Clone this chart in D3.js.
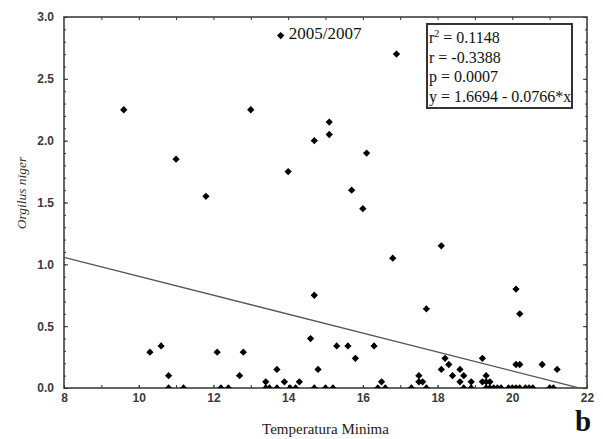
<!DOCTYPE html>
<html>
<head>
<meta charset="utf-8">
<script src="https://cdn.jsdelivr.net/npm/d3@7"></script>
<style>
  html, body { margin: 0; padding: 0; background: #fff; }
  svg { display: block; }
</style>
</head>
<body>
<div id="chart"></div>
<script>
// values (Temperatura Minima vs Orgilus niger)
var tempMinima = [
  9.6, 13.0, 13.8, 15.1, 15.1, 14.7, 16.9, 16.1, 11.0, 14.0, 15.7, 11.8, 16.0, 16.8, 18.1,
  20.1, 20.2, 17.7, 14.7,
  10.3, 10.6, 10.8, 12.1, 12.8, 12.7, 13.7, 13.4, 13.9, 14.3, 14.6, 14.8, 15.3, 15.6, 15.8,
  16.3, 16.5, 17.5, 17.5, 17.6, 18.2, 18.3, 18.1, 18.4, 18.6, 18.7, 18.6, 18.9, 19.2, 19.3,
  19.2, 19.3, 19.4, 20.1, 20.2, 20.8, 21.2,
  10.8, 11.2, 12.2, 12.4, 13.4, 13.5, 13.7, 14.05, 14.2, 14.7, 15.0, 15.2, 16.4, 16.6, 17.3,
  17.7, 18.7, 18.9, 19.3, 19.4, 19.5, 19.6, 19.7, 19.9, 20.0, 20.1, 20.2, 20.35, 20.45, 20.55,
  21.0, 21.1
];
var orgilusNiger = [
  2.25, 2.25, 2.85, 2.15, 2.05, 2.0, 2.7, 1.9, 1.85, 1.75, 1.6, 1.55, 1.45, 1.05, 1.15,
  0.8, 0.6, 0.64, 0.75,
  0.29, 0.34, 0.1, 0.29, 0.29, 0.1, 0.15, 0.05, 0.05, 0.05, 0.4, 0.15, 0.34, 0.34, 0.24,
  0.34, 0.05, 0.1, 0.05, 0.05, 0.24, 0.19, 0.15, 0.1, 0.15, 0.1, 0.05, 0.05, 0.24, 0.1,
  0.05, 0.05, 0.05, 0.19, 0.19, 0.19, 0.15,
  0, 0, 0, 0, 0, 0, 0, 0, 0, 0, 0, 0, 0, 0, 0,
  0, 0, 0, 0, 0, 0, 0, 0, 0, 0, 0, 0, 0, 0, 0,
  0, 0
];

var xTickLabels = [8, 10, 12, 14, 16, 18, 20, 22];
var yTickLabels = [0, 0.5, 1.0, 1.5, 2.0, 2.5, 3.0];

var intercept = 1.6694;
var slope = -0.0766;
var statsLines = ['r', 'r = -0.3388', 'p = 0.0007', 'y = 1.6694 - 0.0766*x'];
var outlierIndex = 2;
var outlierLabel = '2005/2007';

var width = 603, height = 439;
var margin = { top: 17, right: 16, bottom: 51, left: 64 };

var svg = d3.select('#chart')
  .append('svg')
  .attr('width', width)
  .attr('height', height);

var x = d3.scaleLinear().domain([8, 22]).range([margin.left, width - margin.right]);
var y = d3.scaleLinear().domain([0, 3]).range([height - margin.bottom, margin.top]);

svg.append('clipPath')
  .attr('id', 'plot-clip')
  .append('rect')
  .attr('x', x(8))
  .attr('y', y(3))
  .attr('width', x(22) - x(8))
  .attr('height', y(0) - y(3));

var axisColor = '#333';

// minor ticks
svg.append('g')
  .attr('transform', 'translate(0,' + y(0) + ')')
  .call(d3.axisBottom(x).tickValues(d3.range(9, 22, 1)).tickSizeInner(-3).tickSizeOuter(0).tickFormat(''));
svg.append('g')
  .attr('transform', 'translate(0,' + y(3) + ')')
  .call(d3.axisTop(x).tickValues(d3.range(9, 22, 1)).tickSizeInner(-3).tickSizeOuter(0).tickFormat(''));
svg.append('g')
  .attr('transform', 'translate(' + x(8) + ',0)')
  .call(d3.axisLeft(y).tickValues(d3.range(0.1, 3, 0.1)).tickSizeInner(-2).tickSizeOuter(0).tickFormat(''));
svg.append('g')
  .attr('transform', 'translate(' + x(22) + ',0)')
  .call(d3.axisRight(y).tickValues(d3.range(0.1, 3, 0.1)).tickSizeInner(-2).tickSizeOuter(0).tickFormat(''));

// major ticks with labels
svg.append('g')
  .attr('class', 'x-axis')
  .attr('transform', 'translate(0,' + y(0) + ')')
  .call(d3.axisBottom(x).tickValues(xTickLabels).tickSizeInner(-3).tickSizeOuter(0).tickPadding(5.5).tickFormat(d3.format('d')));
svg.append('g')
  .attr('class', 'y-axis')
  .attr('transform', 'translate(' + x(8) + ',0)')
  .call(d3.axisLeft(y).tickValues(yTickLabels).tickSizeInner(-4).tickSizeOuter(0).tickPadding(10).tickFormat(d3.format('.1f')));
svg.append('g')
  .attr('transform', 'translate(' + x(22) + ',0)')
  .call(d3.axisRight(y).tickValues(yTickLabels).tickSizeInner(-4).tickSizeOuter(0).tickFormat(''));

svg.selectAll('.domain').remove();
svg.selectAll('.tick line').attr('stroke', axisColor).attr('stroke-width', 1);
svg.selectAll('.x-axis text, .y-axis text')
  .attr('font-family', 'Liberation Sans, Arial, sans-serif')
  .attr('font-size', 12)
  .attr('font-weight', 'bold')
  .attr('fill', '#3a3a3a');

// frame
svg.append('rect')
  .attr('x', x(8))
  .attr('y', y(3))
  .attr('width', x(22) - x(8))
  .attr('height', y(0) - y(3))
  .attr('fill', 'none')
  .attr('stroke', axisColor)
  .attr('stroke-width', 1.5);

var plot = svg.append('g').attr('clip-path', 'url(#plot-clip)');

// regression line
plot.append('line')
  .attr('x1', x(8))
  .attr('y1', y(intercept + slope * 8))
  .attr('x2', x(22))
  .attr('y2', y(intercept + slope * 22))
  .attr('stroke', '#555')
  .attr('stroke-width', 1.3);

// markers
var markerPath = d3.symbol().type(d3.symbolDiamond2).size(34)() + d3.symbol().type(d3.symbolCircle).size(19)();

plot.selectAll('path.pt')
  .data(tempMinima)
  .enter()
  .append('path')
  .attr('class', 'pt')
  .attr('d', markerPath)
  .attr('transform', function (d, i) {
    return 'translate(' + x(d) + ',' + y(orgilusNiger[i]) + ')';
  })
  .attr('fill', '#000');

// outlier label
svg.append('text')
  .attr('x', x(tempMinima[outlierIndex]) + 8)
  .attr('y', y(orgilusNiger[outlierIndex]) + 3)
  .attr('font-family', 'Liberation Serif, Times New Roman, serif')
  .attr('font-size', 17)
  .attr('fill', '#111')
  .text(outlierLabel);

// stats box
svg.append('rect')
  .attr('x', 427)
  .attr('y', 24)
  .attr('width', 145)
  .attr('height', 84)
  .attr('fill', '#fff')
  .attr('stroke', '#333')
  .attr('stroke-width', 2);

var stats = svg.append('g')
  .attr('font-family', 'Liberation Serif, Times New Roman, serif')
  .attr('font-size', 16)
  .attr('fill', '#111');

stats.selectAll('text')
  .data(statsLines)
  .enter()
  .append('text')
  .attr('x', 429)
  .attr('y', function (d, i) { return 43 + i * 19.5; })
  .each(function (d, i) {
    var t = d3.select(this);
    if (i === 0) {
      t.append('tspan').text('r');
      t.append('tspan').attr('font-size', 10).attr('dy', -6).text('2');
      t.append('tspan').attr('dy', 6).text(' = 0.1148');
    } else {
      t.text(d);
    }
  });

// axis titles
svg.append('text')
  .attr('transform', 'translate(26,193) rotate(-90)')
  .attr('text-anchor', 'middle')
  .attr('font-family', 'Liberation Serif, Times New Roman, serif')
  .attr('font-style', 'italic')
  .attr('font-size', 13.5)
  .attr('fill', '#333')
  .text('Orgilus niger');

svg.append('text')
  .attr('x', (x(8) + x(22)) / 2)
  .attr('y', 434)
  .attr('text-anchor', 'middle')
  .attr('font-family', 'Liberation Serif, Times New Roman, serif')
  .attr('font-size', 15)
  .attr('fill', '#222')
  .text('Temperatura Minima');

svg.append('text')
  .attr('x', 575)
  .attr('y', 431)
  .attr('font-family', 'Liberation Serif, Times New Roman, serif')
  .attr('font-size', 29)
  .attr('font-weight', 'bold')
  .attr('fill', '#111')
  .text('b');
</script>
</body>
</html>
